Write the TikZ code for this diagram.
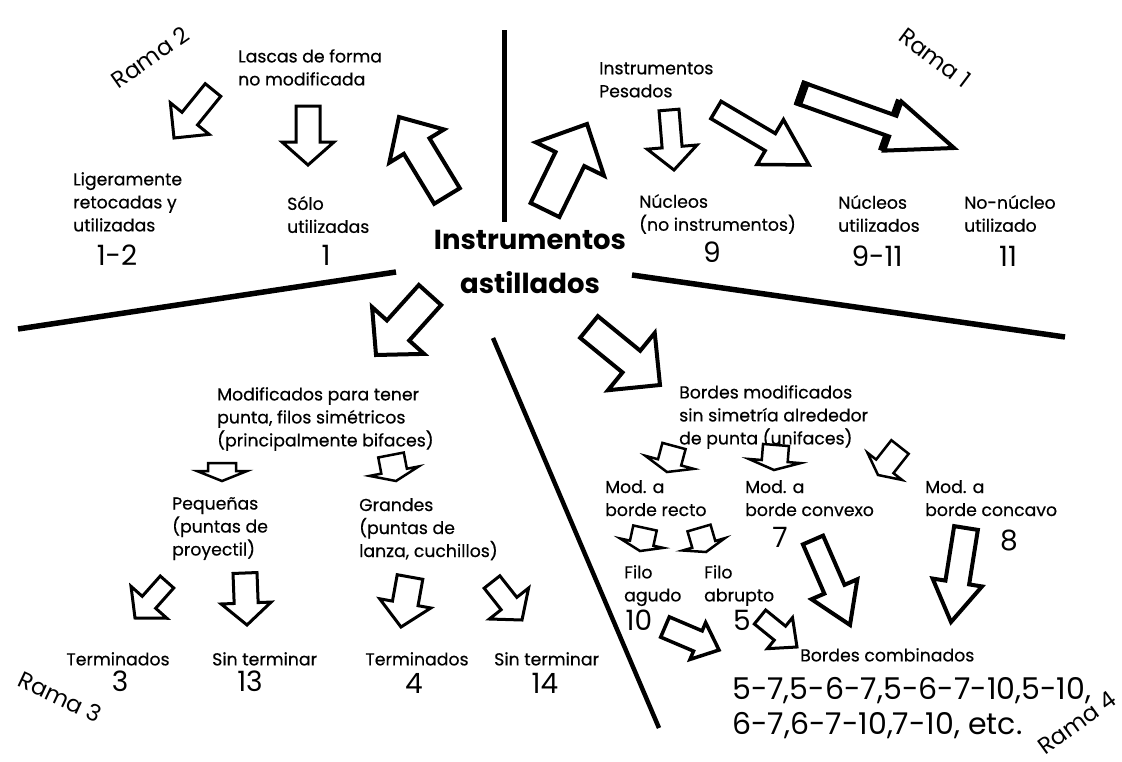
\documentclass[tikz,border=0pt]{standalone}
\usepackage{fontspec}
\setmainfont{Poppins}
\newfontfamily\lblfont{Poppins}[FakeBold=0.45]

% block arrow: x1 y1 x2 y2 shaft-halfwidth head-halfwidth head-length linewidth
\newcommand{\blk}[8]{%
  \pgfmathsetmacro\bkang{atan2(-(#4-#2),#3-#1)}%
  \pgfmathsetmacro\bklen{veclen(#3-#1,#4-#2)}%
  \draw[blockarrow, line width=#8, shift={(#1,#2)}, rotate=\bkang]
    (0,-#5) -- (\bklen-#7,-#5) -- (\bklen-#7,-#6) -- (\bklen,0)
    -- (\bklen-#7,#6) -- (\bklen-#7,#5) -- (0,#5) -- cycle;
}

\tikzset{
  lbl/.style={anchor=north west, inner sep=0pt, align=left, font=\lblfont\fontsize{17.3}{23}\selectfont},
  num/.style={inner sep=0pt, font=\fontsize{28}{35}\selectfont},
  rama/.style={inner sep=0pt, font=\fontsize{23}{30}\selectfont},
  sep/.style={line width=5pt, line cap=butt},
  blockarrow/.style={draw=black, fill=white, line join=miter, miter limit=10},
}

\begin{document}
\begin{tikzpicture}[x=1pt, y=-1pt]
\fill[white] (0,0) rectangle (1122,761);
\useasboundingbox (0,0) rectangle (1122,761);

% separator lines
\draw[sep] (504,30) -- (504,222);
\draw[sep, line width=5.5pt] (18,329) -- (396,272);
\draw[sep, line width=5.5pt] (632,275) -- (1065,337);
\draw[sep, line width=4.5pt] (493,338) -- (659,728);

% central
\node[font=\bfseries\fontsize{27.5}{44}\selectfont, align=center, inner sep=0pt, anchor=north] (central) at (530,230) {Instrumentos\\astillados};

% Rama 2
\node[rama, rotate=35] (r2) at (150,57) {Rama 2};
\node[lbl] (lascas) at (238,49) {Lascas de forma\\no modificada};
\node[lbl] (liger) at (73,172) {Ligeramente\\retocadas y\\utilizadas};
\node[num] (n12) at (117,255) {1-2};
\node[lbl] (solo) at (287,196) {Sólo\\utilizadas};
\node[num] (n1) at (326,255) {1};

% Rama 1
\node[rama, rotate=-37] (r1) at (935,58) {Rama 1};
\node[lbl] (pesados) at (599,62) {Instrumentos\\Pesados};
\node[lbl] (nucleos) at (639,194) {Núcleos\\(no instrumentos)};
\node[num] (n9) at (712,252) {9};
\node[lbl] (nucutil) at (838,195) {Núcleos\\utilizados};
\node[num] (n911) at (877,256) {9-11};
\node[lbl] (nonuc) at (964,195) {No-núcleo\\utilizado};
\node[num] (n11) at (1008,256) {11};

% Rama 3
\node[rama, rotate=-25] (r3) at (60,697) {Rama 3};
\node[lbl] (modif) at (217,387) {Modificados para tener\\punta, filos simétricos\\(principalmente bifaces)};
\node[lbl] (pequenas) at (172,497) {Pequeñas\\(puntas de\\proyectil)};
\node[lbl] (grandes) at (359,498) {Grandes\\(puntas de\\lanza, cuchillos)};
\node[lbl, anchor=north] (term3) at (118,652) {Terminados};
\node[num] (n3) at (120,681) {3};
\node[lbl] (sint13) at (212,652) {Sin terminar};
\node[num] (n13) at (250,681) {13};
\node[lbl, anchor=north] (term4) at (417,652) {Terminados};
\node[num] (n4) at (414,683) {4};
\node[lbl] (sint14) at (494,652) {Sin terminar};
\node[num] (n14) at (545,683) {14};

% Rama 4
\node[rama, rotate=36] (r4) at (1077,723) {Rama 4};
\node[lbl] (bordes) at (679,385) {Bordes modificados\\sin simetría alrededor\\de punta (unifaces)};
\node[lbl] (recto) at (605,480) {Mod. a\\borde recto};
\node[lbl] (convexo) at (745,480) {Mod. a\\borde convexo};
\node[num] (n7) at (780,537) {7};
\node[lbl] (concavo) at (925,480) {Mod. a\\borde concavo};
\node[num] (n8) at (1009,540) {8};
\node[lbl] (agudo) at (624,565) {Filo\\agudo};
\node[num] (n10) at (639,620) {10};
\node[lbl] (abrupto) at (704,565) {Filo\\abrupto};
\node[num] (n5) at (742,620) {5};
\node[lbl] (combin) at (800,648) {Bordes combinados};
\node[num, font=\fontsize{30}{35}\selectfont, anchor=north west, align=left] (combnums) at (732,677) {5-7,5-6-7,5-6-7-10,5-10,\\6-7,6-7-10,7-10, etc.};

% block arrows
\blk{213}{90}{174}{138}{10}{25}{25}{3}
\blk{308}{106}{308}{165}{12}{26}{23}{3}
\blk{447}{196}{399}{117}{15}{32}{34}{4}
\blk{545}{210}{587}{124}{16}{38}{39}{4}
\blk{669}{110}{674}{170}{10}{25}{23}{3}
\blk{716}{110}{809}{165}{10}{26}{45}{3.5}
% Rama 1 arrow with shadow
\pgfmathsetmacro\raang{atan2(-(148-93),954-800)}
\pgfmathsetmacro\ralen{veclen(154,55)}
\begin{scope}[shift={(800,93)}, rotate=\raang]
  \draw[blockarrow, line width=4pt]
    (0,-11) -- (\ralen-65,-11) -- (\ralen-65,-26) -- (\ralen,0)
    -- (\ralen-65,26) -- (\ralen-65,11) -- (0,11) -- cycle;
  \fill[black] (-2,-13) rectangle (6,13);
  \fill[black] (\ralen-71,11) rectangle (\ralen-65,27);
  \fill[black] (\ralen-71,-27) rectangle (\ralen-65,-11);
\end{scope}
\blk{430}{295}{376}{355}{15}{35}{33}{4}
\blk{589}{327}{660}{385}{14}{37}{37}{4}
\blk{222}{463}{222}{481}{14}{25}{10}{2.5}
\blk{391}{455}{396}{481}{13}{25}{10}{2.5}
\blk{167}{582}{135}{618}{9}{24}{21}{3}
\blk{245}{573}{247}{625}{12}{25}{22}{3}
\blk{410}{577}{401}{627}{13}{26}{24}{3}
\blk{492}{582}{522}{620}{10}{25}{21}{3}
\blk{674}{446}{667}{472}{12}{25}{10}{2.5}
\blk{776}{445}{774}{470}{13}{26}{9}{2.5}
\blk{900}{447}{878}{475}{11}{22}{11}{2.5}
\blk{645}{528}{640}{551}{12}{22}{8}{2.5}
\blk{699}{528}{706}{552}{12}{22}{8}{2.5}
\blk{665}{627}{719}{650}{11}{20}{23}{3.5}
\blk{760}{617}{797}{647}{9}{20}{22}{3}
\blk{813}{540}{850}{625}{11}{25}{39}{4}
\blk{966}{528}{951}{622}{12}{25}{40}{4}
\end{tikzpicture}
\end{document}
